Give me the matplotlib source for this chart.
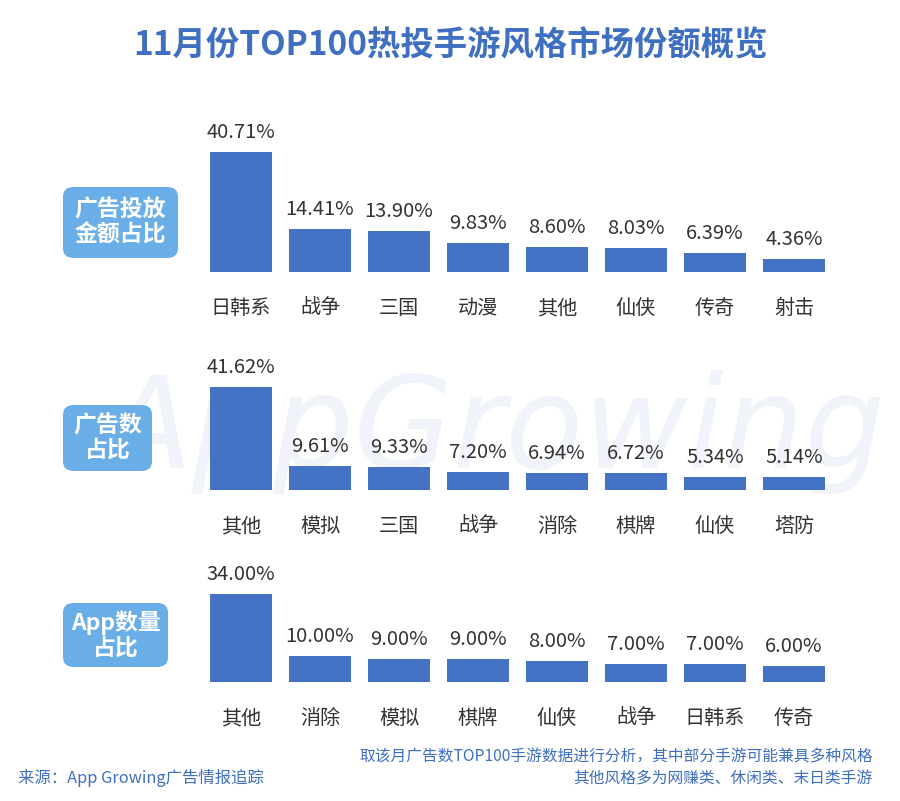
import matplotlib
matplotlib.use("Agg")
import matplotlib.pyplot as plt
from matplotlib.patches import FancyBboxPatch

plt.rcParams['font.family'] = ['Noto Sans CJK SC', 'DejaVu Sans']

title = "11月份TOP100热投手游风格市场份额概览"

cats1 = ["日韩系", "战争", "三国", "动漫", "其他", "仙侠", "传奇", "射击"]
vals1 = [40.71, 14.41, 13.90, 9.83, 8.60, 8.03, 6.39, 4.36]
cats2 = ["其他", "模拟", "三国", "战争", "消除", "棋牌", "仙侠", "塔防"]
vals2 = [41.62, 9.61, 9.33, 7.20, 6.94, 6.72, 5.34, 5.14]
cats3 = ["其他", "消除", "模拟", "棋牌", "仙侠", "战争", "日韩系", "传奇"]
vals3 = [34.00, 10.00, 9.00, 9.00, 8.00, 7.00, 7.00, 6.00]
panel_names = ["广告投放\n金额占比", "广告数\n占比", "App数量\n占比"]

W, H = 900, 801
fig = plt.figure(figsize=(W / 100, H / 100), dpi=100)
fig.patch.set_facecolor("white")

BAR = "#4472C4"
BOX = "#6aaee8"
TXT = "#333333"
BLUE_T = "#3f6fc0"

# faint watermark behind everything
fig.text(495 / W, 1 - 432 / H, "AppGrowing", fontsize=92, color="#f0f3f9",
         style="italic", ha="center", va="center", zorder=-5, family="DejaVu Sans")

fig.text(0.5, 1 - 46 / H, title, fontsize=24, fontweight="bold", color=BLUE_T,
         ha="center", va="center")

# axes geometry in pixels: (bottom_y, top_y, px_per_pct)
panels = [
    (cats1, vals1, 272, 140, 2.95, (63, 187, 178, 258)),
    (cats2, vals2, 490, 372, 2.47, (63, 405, 152, 471)),
    (cats3, vals3, 682, 575, 2.59, (63, 603, 168, 667)),
]
left_px = 201.5
width_px = 632

for (cats, vals, ybot, ytop, scale, box), name in zip(panels, panel_names):
    ax = fig.add_axes([left_px / W, 1 - ybot / H, width_px / W, (ybot - ytop) / H])
    ax.set_facecolor("none")
    x = list(range(len(cats)))
    ax.bar(x, vals, width=0.78, color=BAR, zorder=2)
    ax.set_xlim(-0.5, len(cats) - 0.5)
    ax.set_ylim(0, (ybot - ytop) / scale)
    for xi, v in zip(x, vals):
        ax.text(xi, v + 9.0 / scale, f"{v:.2f}%", ha="center", va="bottom",
                fontsize=14.5, color=TXT)
    ax.set_xticks(x)
    ax.set_xticklabels(cats, fontsize=14.5, color=TXT)
    ax.tick_params(axis="x", length=0, pad=19)
    ax.set_yticks([])
    for s in ax.spines.values():
        s.set_visible(False)
    # label box
    x0, y0, x1, y1 = box
    p = FancyBboxPatch((x0 / W, 1 - y1 / H), (x1 - x0) / W, (y1 - y0) / H,
                       boxstyle="round,pad=0,rounding_size=0.012",
                       transform=fig.transFigure, facecolor=BOX, edgecolor="none",
                       zorder=1)
    fig.patches.append(p)
    fig.text((x0 + x1) / 2 / W, 1 - (y0 + y1) / 2 / H, name, ha="center", va="center",
             fontsize=16.5, fontweight="bold", color="white", linespacing=1.1)

fig.text(18 / W, 1 - 778 / H, "来源：App Growing广告情报追踪", fontsize=11.8,
         color=BLUE_T, ha="left", va="center")
fig.text(873 / W, 1 - 757 / H, "取该月广告数TOP100手游数据进行分析，其中部分手游可能兼具多种风格",
         fontsize=11.3, color=BLUE_T, ha="right", va="center")
fig.text(873 / W, 1 - 779 / H, "其他风格多为网赚类、休闲类、末日类手游",
         fontsize=11.3, color=BLUE_T, ha="right", va="center")

fig.savefig("out.png", dpi=100, facecolor="white")
